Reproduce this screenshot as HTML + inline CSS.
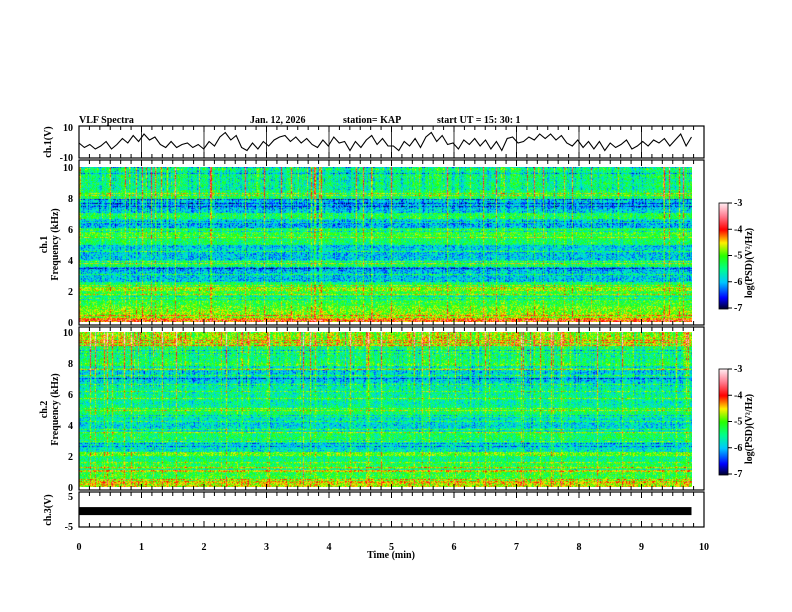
<!DOCTYPE html>
<html><head><meta charset="utf-8">
<style>
html,body{margin:0;padding:0;background:#fff;}
#root{position:relative;width:792px;height:612px;overflow:hidden;background:#fff;font-family:"Liberation Serif",serif;font-weight:bold;}
canvas{position:absolute;}
svg{position:absolute;left:0;top:0;}
svg text{font-family:"Liberation Serif",serif;font-weight:bold;font-size:10px;fill:#000;}
</style></head>
<body>
<div id="root">
<canvas id="spec1" width="613" height="155" style="left:79px;top:167px;width:613px;height:155px"></canvas>
<canvas id="spec2" width="613" height="155" style="left:79px;top:332px;width:613px;height:155px"></canvas>
<canvas id="cb1" width="9" height="106" style="left:719px;top:203px"></canvas>
<canvas id="cb2" width="9" height="106" style="left:719px;top:369px"></canvas>
<svg id="chart" width="792" height="612"></svg>
</div>
<script>
// ---------- data ----------
const freqBins = 40; // 0.25 kHz bins, 0..10 kHz
const ch1Profile = [-4.3,-4.8,-4.8,-4.9,-5.1,-5.1,-5.2,-5.1,-4.7,-5.3,-5.9,-5.9,-5.9,-6.0,-5.3,-5.6,-5.9,-5.9,-5.8,-5.9,-5.3,-5.3,-5.1,-5.2,-6.0,-6.1,-5.3,-5.3,-5.9,-6.0,-6.0,-5.9,-5.4,-5.4,-5.6,-5.5,-5.6,-5.5,-5.6,-5.4];
const ch2Profile = [-4.6,-4.4,-5.1,-5.1,-5.1,-5.2,-5.4,-5.4,-4.9,-5.7,-5.7,-5.6,-5.3,-5.3,-5.7,-5.8,-5.8,-5.7,-5.3,-5.3,-5.5,-5.6,-5.5,-5.5,-5.6,-5.6,-5.8,-5.9,-5.8,-5.9,-5.3,-5.2,-5.4,-5.5,-5.3,-5.4,-4.9,-4.9,-4.8,-4.9];
const activity = [0.6,0.3,0.4,0.2,0.5,0.3,0.2,0.6,0.4,0.7,0.3,0.2,0.3,0.5,0.2,0.3,0.4,0.6,0.3,0.2,0.5,0.4,0.3,0.2,0.3,0.4,0.2,0.5,0.3,0.4,0.3,0.2,0.6,0.4,0.5,0.7,0.4,0.3,0.2,0.4,0.3,0.5,0.6,0.3,0.2,0.3,0.2,0.4,0.3,0.2,0.3,0.5,0.4,0.3,0.2,0.3,0.4,0.5,0.3,0.6];
const wave = [0,-3,-1,-4,-2,1,-4,-1,3,0,5,1,6,2,4,-1,-3,1,-3,-1,0,-3,-1,-4,1,-2,4,7,2,5,-3,-5,0,-4,1,-2,2,4,5,1,4,0,3,-1,-3,2,-2,4,0,1,-5,1,-3,2,5,-1,3,-2,-2,-5,1,-2,3,-3,4,7,1,5,-1,0,-4,2,-1,3,-2,2,-4,1,-5,3,4,0,1,4,2,6,3,6,2,5,0,-2,2,-3,1,-4,1,-5,0,-3,-1,2,-4,-2,1,-2,2,0,3,-2,2,6,-2,4];
const ch3Value = 0.3;
const xTicks = [0,1,2,3,4,5,6,7,8,9,10];
const freqTicks = [0,2,4,6,8,10];
const cbTicks = [-3,-4,-5,-6,-7];
const dataEndMin = 9.8;

// ---------- scales ----------
const X0=79, X1=704;
const xs = t => X0 + (X1-X0)*t/10;
const wy = v => 143 - v*1.5;
const c3y = v => 512 - v*3;
const f1y = f => 322 - f*15.5;
const f2y = f => 487 - f*15.5;

function cmap(v){
  const stops=[[-7,[0,0,50]],[-6.6,[0,0,255]],[-6.0,[0,200,255]],[-5.5,[0,255,140]],[-5.0,[40,255,0]],[-4.5,[255,240,0]],[-4.0,[255,0,0]],[-3.5,[255,120,140]],[-3,[255,235,240]]];
  if(v<=stops[0][0]) return stops[0][1];
  for(let i=1;i<stops.length;i++){ if(v<=stops[i][0]){const a=stops[i-1],b=stops[i];const r=(v-a[0])/(b[0]-a[0]);return a[1].map((c,k)=>Math.round(c+(b[1][k]-c)*r));}}
  return stops[stops.length-1][1];
}
function hash(a,b){let h=(a*374761393+b*668265263)|0;h=(h^(h>>>13))*1274126177|0;return ((h^(h>>>16))>>>0)/4294967296;}

function drawSpec(id,profile,seed){
  const c=document.getElementById(id),ctx=c.getContext('2d');
  const W=c.width,H=c.height,img=ctx.createImageData(W,H);
  const colStripe=[],rowLine=[];
  for(let x=0;x<W;x++){const h=hash(x,seed);colStripe.push(h>0.88?(h-0.88)*11:(h<0.3?-0.35:0));}
  for(let y=0;y<H;y++){const h=hash(y+seed,7);rowLine.push(h>0.9?0.6:(h<0.06?-0.5:0));}
  for(let y=0;y<H;y++){
    const f=(H-1-y)/H*10;const bi=Math.min(freqBins-1,Math.floor(f/0.25));
    const hiW=Math.max(0,(f-5)/5);
    for(let x=0;x<W;x++){
      const ti=Math.min(activity.length-1,Math.floor(x/W*activity.length));
      let v=profile[bi]+rowLine[y]+activity[ti]*hiW*0.6+colStripe[x]*(0.5+hiW*0.8)+(hash(x*3+seed,y)-0.5)*1.0;
      const col=cmap(v),k=(y*W+x)*4;
      img.data[k]=col[0];img.data[k+1]=col[1];img.data[k+2]=col[2];img.data[k+3]=255;
    }
  }
  ctx.putImageData(img,0,0);
}
drawSpec('spec1',ch1Profile,11);
drawSpec('spec2',ch2Profile,29);
['cb1','cb2'].forEach(id=>{const c=document.getElementById(id),ctx=c.getContext('2d');for(let y=0;y<c.height;y++){const v=-3-4*y/(c.height-1);const col=cmap(v);ctx.fillStyle=`rgb(${col})`;ctx.fillRect(0,y,c.width,1);}});

// ---------- svg ----------
const svg=document.getElementById('chart');const NS='http://www.w3.org/2000/svg';
function el(tag,attrs,parent){const e=document.createElementNS(NS,tag);for(const k in attrs)e.setAttribute(k,attrs[k]);(parent||svg).appendChild(e);return e;}
function txt(x,y,s,anchor,extra){const t=el('text',Object.assign({x:x,y:y,'text-anchor':anchor||'start'},extra||{}));t.textContent=s;return t;}

let t;
t=txt(79,123,'VLF Spectra','start',{'font-size':'12px','font-weight':'normal'});
t=txt(250,123,'Jan. 12, 2026','start',{'font-size':'9px'});
t=txt(343,123,'station= KAP','start',{'font-size':'9px'});
t=txt(437,123,'start  UT =   15: 30: 1','start',{'font-size':'9px'});

const panels=[[126,158,'waveform-ch1-frame'],[160,325,'spectrogram-ch1-frame'],[327,490,'spectrogram-ch2-frame'],[492,527,'waveform-ch3-frame']];
panels.forEach(p=>{const r=el('rect',{x:X0,y:p[0],width:X1-X0,height:p[1]-p[0],fill:'none',stroke:'#000','stroke-width':1.2});
  for(let i=0;i<=60;i++){const x=X0+(X1-X0)*i/60;const L=(i%6===0)?6:4;
    el('line',{x1:x,y1:p[0],x2:x,y2:p[0]+L,stroke:'#000','stroke-width':1});
    el('line',{x1:x,y1:p[1],x2:x,y2:p[1]-L,stroke:'#000','stroke-width':1});}
});
xTicks.forEach(m=>{if(m>0&&m<10){el('line',{x1:xs(m),y1:126,x2:xs(m),y2:158,stroke:'#000','stroke-width':0.8});}});

const pts=wave.map((v,i)=>xs(i/(wave.length-1)*dataEndMin).toFixed(1)+','+wy(v).toFixed(1)).join(' ');
const pl=el('polyline',{points:pts,fill:'none',stroke:'#000','stroke-width':1.1});

txt(73,131,'10','end');txt(73,161,'-10','end');
t=txt(0,0,'ch.1(V)','middle',{transform:'translate(51,142) rotate(-90)'});

const bar=el('rect',{x:xs(0),y:c3y(ch3Value)-4,width:xs(dataEndMin)-xs(0),height:8,fill:'#000'});

txt(73,500,'5','end');txt(73,530,'-5','end');
t=txt(0,0,'ch.3(V)','middle',{transform:'translate(51,510) rotate(-90)'});

freqTicks.forEach(f=>{txt(73,f1y(f)+4,String(f),'end');txt(73,f2y(f)+4,String(f),'end');});
[[f1y(5),'ch.1','ch1-frequency-axis-title'],[f2y(5),'ch.2','ch2-frequency-axis-title']].forEach(a=>{
  txt(0,0,a[1],'middle',{transform:`translate(47,${a[0]}) rotate(-90)`});
  t=txt(0,0,'Frequency  (kHz)','middle',{transform:`translate(58,${a[0]}) rotate(-90)`});
});

[[203,'colorbar-1-label'],[369,'colorbar-2-label']].forEach(c=>{
  el('rect',{x:719,y:c[0],width:9,height:106,fill:'none',stroke:'#000','stroke-width':0.8});
  cbTicks.forEach((v,i)=>{const y=c[0]+(-3-v)/4*105;el('line',{x1:728,y1:y,x2:732,y2:y,stroke:'#000'});txt(734,y+3,String(v),'start',{'font-size':'8px'});});
  t=txt(0,0,'log(PSD)(V\u00B2/Hz)','middle',{transform:`translate(752,${c[0]+60}) rotate(-90)`,'font-size':'7px'});
});

xTicks.forEach(m=>{txt(xs(m),550,String(m),'middle');});
t=txt(391,558,'Time  (min)','middle');
</script>
</body></html>
